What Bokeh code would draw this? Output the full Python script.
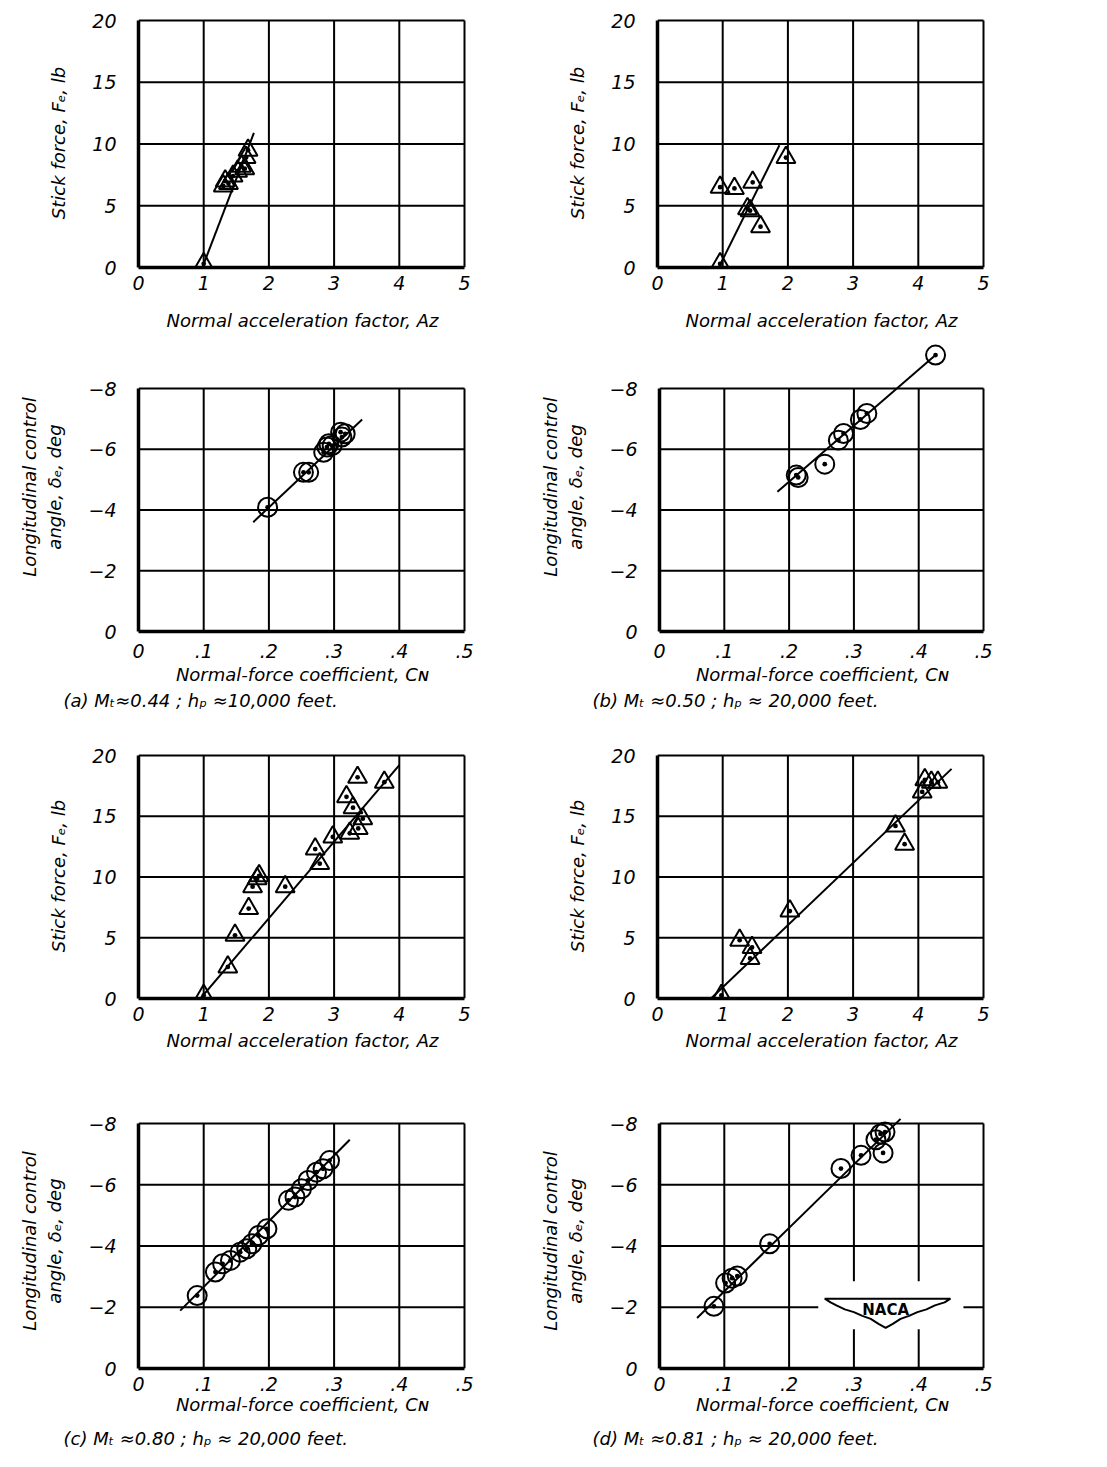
from bokeh.plotting import figure
from bokeh.layouts import column, row
from bokeh.models import Range1d, FixedTicker, Title
from bokeh.embed import file_html
from bokeh.resources import INLINE
from bokeh.core.properties import value

# ---------------- data ----------------
# (a) M_T ~ 0.44, h_p ~ 10,000 ft
a_stick_az = [1.00, 1.30, 1.33, 1.38, 1.45, 1.52, 1.58, 1.63, 1.65, 1.68]
a_stick_fe = [0.3, 6.6, 7.0, 6.8, 7.4, 7.8, 8.2, 8.0, 8.9, 9.5]
a_stick_fit_x = [0.98, 1.77]
a_stick_fit_y = [0.0, 10.9]

a_ang_cn = [0.198, 0.253, 0.261, 0.284, 0.289, 0.292, 0.297, 0.312, 0.317, 0.310]
a_ang_de = [-4.09, -5.24, -5.24, -5.90, -6.07, -6.18, -6.12, -6.40, -6.51, -6.56]
a_ang_fit_x = [0.176, 0.343]
a_ang_fit_y = [-3.60, -6.98]

# (b) M_T ~ 0.50, h_p ~ 20,000 ft
b_stick_az = [0.96, 0.96, 1.18, 1.46, 1.97, 1.38, 1.42, 1.58]
b_stick_fe = [0.3, 6.5, 6.4, 6.9, 8.9, 4.75, 4.6, 3.3]
b_stick_fit_x = [0.94, 1.87]
b_stick_fit_y = [0.0, 9.9]

b_ang_cn = [0.426, 0.320, 0.310, 0.284, 0.276, 0.255, 0.211, 0.214]
b_ang_de = [-9.10, -7.18, -6.98, -6.52, -6.30, -5.51, -5.15, -5.07]
b_ang_fit_x = [0.182, 0.426]
b_ang_fit_y = [-4.60, -9.10]

# (c) M_T ~ 0.80, h_p ~ 20,000 ft
c_stick_az = [1.00, 1.37, 1.48, 1.69, 1.75, 1.82, 1.85, 2.25, 2.71, 2.78,
              2.98, 3.24, 3.37, 3.44, 3.29, 3.19, 3.36, 3.77]
c_stick_fe = [0.25, 2.6, 5.2, 7.4, 9.2, 9.85, 10.1, 9.2, 12.3, 11.1,
              13.3, 13.6, 14.0, 14.8, 15.7, 16.6, 18.2, 17.8]
c_stick_fit_x = [0.95, 4.00]
c_stick_fit_y = [0.0, 19.2]

c_ang_cn = [0.090, 0.118, 0.129, 0.141, 0.156, 0.166, 0.174, 0.184, 0.197,
            0.230, 0.240, 0.250, 0.260, 0.273, 0.283, 0.293]
c_ang_de = [-2.38, -3.15, -3.42, -3.53, -3.80, -3.91, -4.07, -4.34, -4.56,
            -5.49, -5.60, -5.87, -6.14, -6.41, -6.52, -6.79]
c_ang_fit_x = [0.064, 0.324]
c_ang_fit_y = [-1.89, -7.47]

# (d) M_T ~ 0.81, h_p ~ 20,000 ft
d_stick_az = [0.98, 1.26, 1.45, 1.42, 2.03, 3.65, 3.79, 4.06, 4.10, 4.20, 4.30]
d_stick_fe = [0.25, 4.8, 4.2, 3.3, 7.2, 14.2, 12.7, 17.0, 18.0, 17.8, 17.8]
d_stick_fit_x = [0.82, 4.51]
d_stick_fit_y = [0.0, 18.9]

d_ang_cn = [0.084, 0.102, 0.112, 0.120, 0.170, 0.280, 0.311, 0.345, 0.334, 0.341, 0.348]
d_ang_de = [-2.03, -2.79, -2.95, -3.02, -4.07, -6.53, -6.96, -7.04, -7.47, -7.66, -7.72]
d_ang_fit_x = [0.058, 0.372]
d_ang_fit_y = [-1.65, -8.15]

stick_xticks = [0, 1, 2, 3, 4, 5]
stick_yticks = [0, 5, 10, 15, 20]
ang_xticks = [0, 0.1, 0.2, 0.3, 0.4, 0.5]
ang_xlabels = ["0", ".1", ".2", ".3", ".4", ".5"]
ang_yticks = [0, -2, -4, -6, -8]
ang_ylabels = ["0", "\u22122", "\u22124", "\u22126", "\u22128"]

STICK_YLABEL = "Stick force, F\u2091, lb"
STICK_XLABEL = "Normal acceleration factor, A\u1d22"
ANG_YLABEL = "Longitudinal control\nangle, \u03b4\u2091, deg"
ANG_XLABEL = "Normal-force coefficient, C\u0274"

captions = {
    "a": "(a) M\u209c\u22480.44 ; h\u209a \u224810,000 feet.",
    "b": "(b) M\u209c \u22480.50 ; h\u209a \u2248 20,000 feet.",
    "c": "(c) M\u209c \u22480.80 ; h\u209a \u2248 20,000 feet.",
    "d": "(d) M\u209c \u22480.81 ; h\u209a \u2248 20,000 feet.",
}

FONT = "DejaVu Sans"
FS = "18px"
TICK_FS = "19px"

# layout geometry (pixels); page is drawn from the window's top-left corner
ROWS = {1: dict(height=340, top=20, fh=247, tk_stand=2, xl_stand=17, cap_stand=0, ext=2),
        2: dict(height=395, top=48, fh=243, tk_stand=6, xl_stand=3, cap_stand=0, ext=46),
        3: dict(height=340, top=20, fh=243, tk_stand=2, xl_stand=6, cap_stand=0, ext=2),
        4: dict(height=382, top=48, fh=245, tk_stand=2, xl_stand=0, cap_stand=16, ext=10)}
COLS = {0: dict(width=537, left=138, fw=326, cap_off=-75),
        1: dict(width=506, left=120, fw=326, cap_off=-67)}


def panel(kind, r, c, xs, ys, fx, fy, caption=None, logo=False):
    R, C = ROWS[r], COLS[c]
    ext_px = R["ext"]
    fw = C["fw"] + 2
    fh = R["fh"] + ext_px
    top = R["top"] - ext_px
    bottom = R["height"] - R["top"] - R["fh"]
    right = C["width"] - C["left"] - fw
    if kind == "stick":
        xmax, ymax = 5.0, 20.0
        xt, xl = stick_xticks, [str(t) for t in stick_xticks]
        yt, yl = stick_yticks, [str(t) for t in stick_yticks]
        ylab, xlab, marker = STICK_YLABEL, STICK_XLABEL, "triangle_dot"
    else:
        xmax, ymax = 0.5, -8.0
        xt, xl = ang_xticks, ang_xlabels
        yt, yl = ang_yticks, ang_ylabels
        ylab, xlab, marker = ANG_YLABEL, ANG_XLABEL, "circle_dot"
    x_end = xmax * fw / C["fw"]
    y_end = ymax * fh / R["fh"]
    p = figure(width=C["width"], height=R["height"],
               x_range=Range1d(0, x_end), y_range=Range1d(0, y_end),
               min_border_left=C["left"], min_border_right=right,
               min_border_top=top, min_border_bottom=bottom,
               output_backend="svg", toolbar_location=None,
               background_fill_color="white", border_fill_color="white")
    p.outline_line_color = None
    p.xgrid.visible = False
    p.ygrid.visible = False

    # grid lines (interior + top/right border)
    gx = [t for t in xt if t != 0]
    p.segment(x0=gx, y0=[0] * len(gx), x1=gx, y1=[ymax] * len(gx),
              line_color="black", line_width=2)
    gy = [t for t in yt if t != 0]
    p.segment(x0=[0] * len(gy), y0=gy, x1=[xmax] * len(gy), y1=gy,
              line_color="black", line_width=2)

    if logo:
        # white patch interrupting grid, wing emblem with NACA text
        p.quad(left=[0.245], right=[0.469], top=[-2.85], bottom=[-1.28],
               fill_color="white", line_color=None)
        wx = [0.255, 0.449, 0.440, 0.425, 0.412, 0.398, 0.385, 0.372, 0.360,
              0.349, 0.338, 0.326, 0.313, 0.300, 0.286, 0.273, 0.264]
        wy = [-2.28, -2.28, -2.16, -2.06, -1.93, -1.84, -1.72, -1.62, -1.46,
              -1.33, -1.46, -1.62, -1.72, -1.84, -1.93, -2.06, -2.16]
        p.patch(wx, wy, fill_color="white", line_color="black", line_width=2)
        p.text(x=[0.349], y=[-1.90], text=["NACA"], text_align="center",
               text_baseline="middle", text_font=value(FONT),
               text_font_size="15px", text_font_style="bold", text_color="black")

    p.line(fx, fy, line_color="black", line_width=2)
    p.scatter(xs, ys, marker=marker, size=19, fill_alpha=0,
              line_color="black", line_width=2)

    for ax, ticks, labels in ((p.xaxis[0], xt, xl), (p.yaxis[0], yt, yl)):
        ax.ticker = FixedTicker(ticks=ticks)
        ax.major_label_overrides = {t: s for t, s in zip(ticks, labels)}
        ax.axis_line_width = 3.5
        ax.axis_line_color = "black"
        ax.major_tick_line_color = None
        ax.minor_tick_line_color = None
        ax.major_label_text_font = FONT
        ax.major_label_text_font_style = "italic"
        ax.major_label_text_font_size = TICK_FS
        ax.major_label_text_color = "black"
        ax.axis_label_text_font = FONT
        ax.axis_label_text_font_style = "italic"
        ax.axis_label_text_font_size = FS
        ax.axis_label_text_color = "black"
    p.xaxis[0].bounds = (0, xmax)
    p.yaxis[0].bounds = (min(0, ymax), max(0, ymax))
    p.xaxis[0].axis_label = xlab
    p.yaxis[0].axis_label = ylab
    p.xaxis[0].major_label_standoff = R["tk_stand"]
    p.xaxis[0].axis_label_standoff = R["xl_stand"]
    p.yaxis[0].major_label_standoff = 16
    p.yaxis[0].axis_label_standoff = 20

    if caption:
        p.add_layout(Title(text=caption, align="left", offset=C["cap_off"],
                           text_font=FONT, text_font_style="italic",
                           text_font_size=FS, text_color="black",
                           standoff=R["cap_stand"]), "below")
    return p


p1 = panel("stick", 1, 0, a_stick_az, a_stick_fe, a_stick_fit_x, a_stick_fit_y)
p2 = panel("stick", 1, 1, b_stick_az, b_stick_fe, b_stick_fit_x, b_stick_fit_y)
p3 = panel("angle", 2, 0, a_ang_cn, a_ang_de, a_ang_fit_x, a_ang_fit_y, caption=captions["a"])
p4 = panel("angle", 2, 1, b_ang_cn, b_ang_de, b_ang_fit_x, b_ang_fit_y, caption=captions["b"])
p5 = panel("stick", 3, 0, c_stick_az, c_stick_fe, c_stick_fit_x, c_stick_fit_y)
p6 = panel("stick", 3, 1, d_stick_az, d_stick_fe, d_stick_fit_x, d_stick_fit_y)
p7 = panel("angle", 4, 0, c_ang_cn, c_ang_de, c_ang_fit_x, c_ang_fit_y, caption=captions["c"])
p8 = panel("angle", 4, 1, d_ang_cn, d_ang_de, d_ang_fit_x, d_ang_fit_y, caption=captions["d"], logo=True)

layout = column(row(p1, p2), row(p3, p4), row(p5, p6), row(p7, p8))

open("out.html", "w").write(file_html(layout, INLINE))
